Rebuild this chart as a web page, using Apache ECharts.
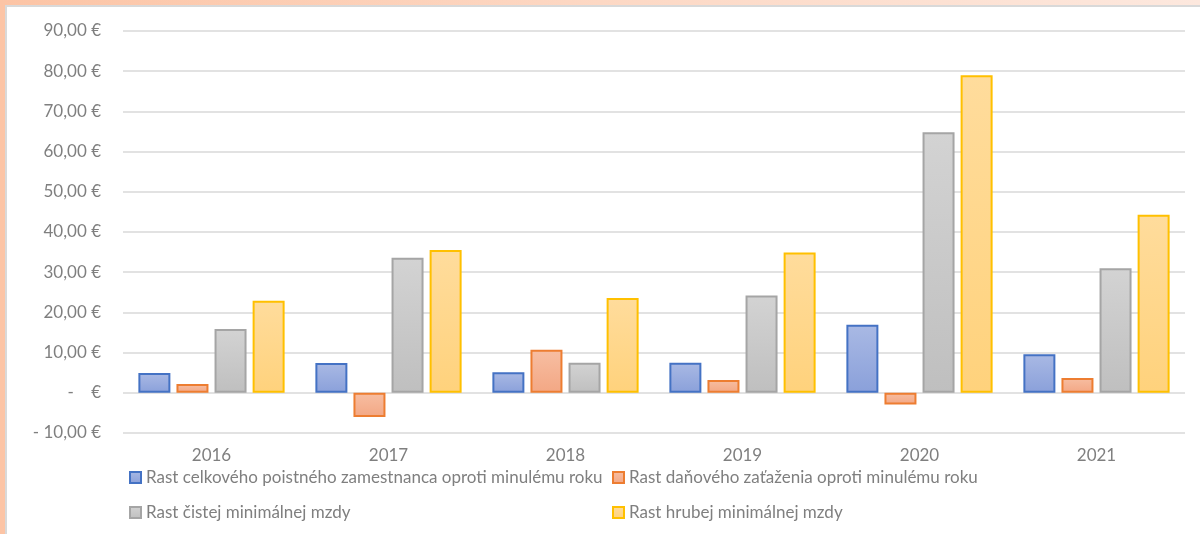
<!DOCTYPE html>
<html>
<head>
<meta charset="utf-8">
<script src="https://cdn.jsdelivr.net/npm/echarts@6/dist/echarts.min.js"></script>
<style>
  html, body { margin: 0; padding: 0; }
  body {
    width: 1200px; height: 534px; overflow: hidden; position: relative;
    background: linear-gradient(90deg, #fcc4a5 0%, #fdd8c4 50%, #fde8de 100%);
  }
  #box {
    position: absolute; left: 5px; top: 5px; width: 1195px; height: 529px;
    background: #fff; border-left: 2px solid #d9d9d9; border-top: 2px solid #d9d9d9;
    box-sizing: border-box;
  }
  #main { position: absolute; left: 0; top: 0; width: 1200px; height: 534px; }
</style>
</head>
<body>
<div id="box"></div>
<div id="main"></div>
<script>
var years = ['2016', '2017', '2018', '2019', '2020', '2021'];

var poistne = [4.9, 7.4, 5.1, 7.5, 16.9, 9.6];
var danove = [2.2, -6.0, 10.7, 3.2, -2.9, 3.7];
var cista = [15.9, 33.6, 7.5, 24.2, 64.8, 31.0];
var hruba = [22.9, 35.5, 23.6, 34.9, 79.0, 44.3];

var names = [
  'Rast celkového poistného zamestnanca oproti minulému roku',
  'Rast daňového zaťaženia oproti minulému roku',
  'Rast čistej minimálnej mzdy',
  'Rast hrubej minimálnej mzdy'
];

var chart = echarts.init(document.getElementById('main'), null, { renderer: 'canvas' });

function grad(top, bottom) {
  return new echarts.graphic.LinearGradient(0, 0, 0, 1, [
    { offset: 0, color: top },
    { offset: 1, color: bottom }
  ]);
}

function money(v) {
  if (v === 0) return '-    €';
  var s = Math.abs(v).toFixed(2).replace('.', ',') + ' €';
  return v < 0 ? '- ' + s : s;
}

var font = 'Lato';
var grey = '#7f7f7f';

// each legend item sits in its own legend box so it gets a 2-column layout
function legendItem(name, left, top) {
  return {
    data: [name],
    left: left,
    top: top,
    padding: 0,
    icon: 'rect',
    itemWidth: 11,
    itemHeight: 11,
    selectedMode: false,
    textStyle: { color: grey, fontSize: 17, fontFamily: font }
  };
}

function bar(name, data, top, bottom, border) {
  return {
    name: name,
    type: 'bar',
    data: data,
    barWidth: 32,
    barGap: '19%',
    itemStyle: { color: grad(top, bottom), borderColor: border, borderWidth: 2 }
  };
}

var option = {
  animation: false,
  backgroundColor: 'transparent',
  textStyle: { fontFamily: font },
  grid: { left: 123, right: 15, top: 31, bottom: 101, containLabel: false },
  legend: [
    legendItem(names[0], 129, 469),
    legendItem(names[1], 612, 469),
    legendItem(names[2], 129, 504),
    legendItem(names[3], 612, 504)
  ],
  xAxis: {
    type: 'category',
    data: years,
    axisLine: { show: false, onZero: false },
    axisTick: { show: false },
    axisLabel: { color: grey, fontSize: 17, margin: 14, fontFamily: font }
  },
  yAxis: {
    type: 'value',
    min: -10,
    max: 90,
    interval: 10,
    axisLine: { show: false },
    axisTick: { show: false },
    splitLine: { lineStyle: { color: '#d9d9d9', width: 1.5 } },
    axisLabel: { color: grey, fontSize: 17, margin: 22, fontFamily: font, formatter: money }
  },
  series: [
    bar(names[0], poistne, '#a9b9e4', '#8aa0da', '#4472c4'),
    bar(names[1], danove, '#f7bea2', '#f3a784', '#ed7d31'),
    bar(names[2], cista, '#d3d3d3', '#bfbfbf', '#a5a5a5'),
    bar(names[3], hruba, '#ffdc9c', '#ffd27c', '#ffc000')
  ]
};

chart.setOption(option);
</script>
</body>
</html>
